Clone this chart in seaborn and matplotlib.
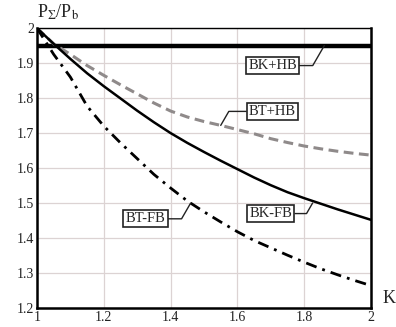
import matplotlib
matplotlib.use("Agg")
import matplotlib.pyplot as plt
import seaborn as sns
import pandas as pd

# Power ratio versus coefficient K for four configurations
k_values = [1.0, 1.05, 1.1, 1.15, 1.2, 1.25, 1.3, 1.35, 1.4, 1.45, 1.5,
            1.55, 1.6, 1.65, 1.7, 1.75, 1.8, 1.85, 1.9, 1.95, 2.0]
bk_hb = [1.95] * len(k_values)
bt_hb = [2.0, 1.955, 1.925, 1.893, 1.865, 1.838, 1.812, 1.786, 1.763, 1.746, 1.733,
         1.722, 1.71, 1.698, 1.684, 1.673, 1.663, 1.655, 1.648, 1.642, 1.637]
bk_fb = [2.0, 1.955, 1.912, 1.871, 1.834, 1.799, 1.764, 1.731, 1.700, 1.672, 1.646,
         1.621, 1.597, 1.573, 1.551, 1.531, 1.514, 1.498, 1.482, 1.467, 1.452]
bt_fb = [2.0, 1.925, 1.86, 1.777, 1.72, 1.672, 1.627, 1.582, 1.543, 1.506, 1.475,
         1.446, 1.418, 1.393, 1.372, 1.351, 1.331, 1.312, 1.295, 1.279, 1.264]

x_ticks = [1.0, 1.2, 1.4, 1.6, 1.8, 2.0]
x_tick_labels = ["1", "1.2", "1.4", "1.6", "1.8", "2"]
y_ticks = [1.2, 1.3, 1.4, 1.5, 1.6, 1.7, 1.8, 1.9, 2.0]
y_tick_labels = ["1.2", "1.3", "1.4", "1.5", "1.6", "1.7", "1.8", "1.9", "2"]

sns.set_theme(style="white")
plt.rcParams["font.family"] = ["Liberation Serif", "DejaVu Serif"]
plt.rcParams["mathtext.fontset"] = "stix"

fig = plt.figure(figsize=(3.96, 3.27), dpi=100)
ax = fig.add_axes([0.0934, 0.058, 0.8436, 0.856])

df = pd.DataFrame({"K": k_values, "BK+HB": bk_hb, "BT+HB": bt_hb,
                   "BK-FB": bk_fb, "BT-FB": bt_fb})

sns.lineplot(data=df, x="K", y="BK+HB", ax=ax, color="black", linewidth=3.2)
sns.lineplot(data=df, x="K", y="BT+HB", ax=ax, color="#8f8a8a", linewidth=2.2,
             linestyle=(0, (3.2, 1.8)))
sns.lineplot(data=df, x="K", y="BK-FB", ax=ax, color="black", linewidth=1.8)
sns.lineplot(data=df, x="K", y="BT-FB", ax=ax, color="black", linewidth=2.0,
             linestyle=(0, (4, 2.2, 1, 2.2)))

ax.set_xlim(1.0, 2.0)
ax.set_ylim(1.2, 2.0)
ax.set_xticks(x_ticks)
ax.set_xticklabels(x_tick_labels)
ax.set_yticks(y_ticks)
ax.set_yticklabels(y_tick_labels)
ax.tick_params(axis="both", length=0, labelsize=10, colors="#222222")
ax.tick_params(axis="x", pad=2)
ax.tick_params(axis="y", pad=2)
ax.grid(True, color="#dcd3d3", linewidth=0.9)
ax.set_xlabel("")
ax.set_ylabel("")

for side in ["left", "bottom", "right"]:
    ax.spines[side].set_visible(True)
    ax.spines[side].set_color("black")
    ax.spines[side].set_linewidth(1.8)
ax.spines["top"].set_visible(True)
ax.spines["top"].set_color("black")
ax.spines["top"].set_linewidth(1.0)

# axis titles
fig.text(0.094, 0.932, r"P$_\Sigma$/P$_\mathrm{b}$", fontsize=13, ha="left", va="bottom")
fig.text(0.965, 0.088, "K", fontsize=13, ha="left", va="center")

box = dict(boxstyle="square,pad=0.15", fc="white", ec="#222222", lw=1.2)

def tag(text, xy, xytext, conn):
    ax.annotate(text, xy=xy, xytext=xytext, fontsize=10.5, ha="center", va="center",
                bbox=box, arrowprops=dict(arrowstyle="-", color="#222222", lw=1.0,
                                          connectionstyle=conn, shrinkA=0, shrinkB=0))

tag("BK+HB", (1.86, 1.95), (1.705, 1.893), "angle,angleA=0,angleB=60,rad=0")
tag("BT+HB", (1.55, 1.722), (1.705, 1.762), "angle,angleA=180,angleB=60,rad=0")
tag("BT-FB", (1.46, 1.50), (1.325, 1.455), "angle,angleA=0,angleB=60,rad=0")
tag("BK-FB", (1.825, 1.50), (1.70, 1.47), "angle,angleA=0,angleB=60,rad=0")

fig.savefig("out.png", dpi=100, facecolor="white")
